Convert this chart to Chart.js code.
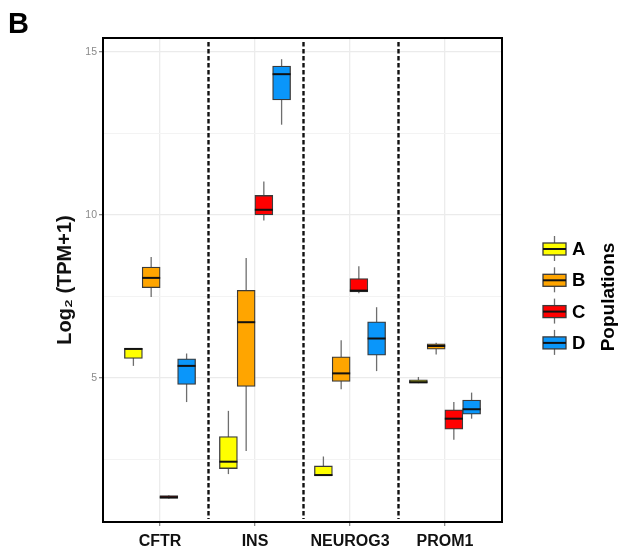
<!DOCTYPE html>
<html>
<head>
<meta charset="utf-8">
<script src="https://cdn.jsdelivr.net/npm/chart.js@4.4.0/dist/chart.umd.min.js"></script>
<style>
  body { margin: 0; background: #fff; }
  #wrap { width: 618px; height: 552px; }
</style>
</head>
<body>
<div id="wrap"><canvas id="boxChart" width="618" height="552"></canvas></div>
<script>
// genes on the x axis, populations = dodged boxes
const genes = ['CFTR', 'INS', 'NEUROG3', 'PROM1'];
const populations = ['A', 'B', 'C', 'D'];
const popColors = ['#FFFF00', '#FFA500', '#FF0000', '#0A96FA'];

// one row per gene: [lower whisker, Q1, median, Q3, upper whisker]
const popA = [[5.36, 5.59, 5.88, 5.90, 5.90], [2.04, 2.21, 2.42, 3.19, 3.98], [1.99, 1.99, 2.01, 2.29, 2.58], [4.83, 4.83, 4.86, 4.93, 5.02]];
const popB = [[7.47, 7.76, 8.06, 8.39, 8.70], [2.75, 4.73, 6.70, 7.68, 8.67], [4.64, 4.88, 5.13, 5.64, 6.15], [5.71, 5.87, 5.97, 6.04, 6.07]];
const popC = [[1.28, 1.29, 1.33, 1.38, 1.39], [9.82, 9.99, 10.15, 10.59, 11.02], [7.59, 7.63, 7.67, 8.04, 8.42], [3.09, 3.42, 3.74, 4.01, 4.25]];
const popD = [[4.25, 4.79, 5.36, 5.58, 5.74], [12.76, 13.52, 14.31, 14.56, 14.77], [5.20, 5.69, 6.20, 6.71, 7.16], [3.74, 3.88, 4.03, 4.31, 4.54]];
const popStats = [popA, popB, popC, popD];

const yTicks = [5, 10, 15];
const separators = [1.5, 2.5, 3.5];

// dodge offsets for the 4 populations inside a gene slot
const dodge = [-0.28, -0.093, 0.093, 0.28];

const datasets = populations.map(function(p, k) {
    return {
        label: p,
        stats: popStats[k],
        data: popStats[k].map(function(s, i) {
            return { x: i + 1 + dodge[k], y: [s[1], s[3]] };
        }),
        backgroundColor: popColors[k],
        borderColor: '#3a3a3a',
        borderWidth: 1.3,
        borderSkipped: false,
        barThickness: 18,
        grouped: false
    };
});

const boxParts = {
    id: 'boxParts',
    beforeDatasetsDraw(chart) {
        const ctx = chart.ctx;
        const area = chart.chartArea;
        const xs = chart.scales.x;
        const ys = chart.scales.y;

        // dashed separators between genes
        ctx.save();
        ctx.strokeStyle = '#111';
        ctx.lineWidth = 2.4;
        ctx.setLineDash([4.5, 2.5]);
        separators.forEach(function(v) {
            const px = Math.round(xs.getPixelForValue(v)) + 0.5;
            ctx.beginPath();
            ctx.moveTo(px, area.top + 4);
            ctx.lineTo(px, area.bottom - 3);
            ctx.stroke();
        });
        ctx.restore();

        // whiskers
        ctx.save();
        ctx.strokeStyle = '#6e6e6e';
        ctx.lineWidth = 1.3;
        chart.data.datasets.forEach(function(ds, k) {
            const meta = chart.getDatasetMeta(k);
            meta.data.forEach(function(el, i) {
                const s = ds.stats[i];
                ctx.beginPath();
                ctx.moveTo(el.x, ys.getPixelForValue(s[0]));
                ctx.lineTo(el.x, ys.getPixelForValue(s[4]));
                ctx.stroke();
            });
        });
        ctx.restore();
    },
    afterDatasetsDraw(chart) {
        const ctx = chart.ctx;
        const ys = chart.scales.y;
        ctx.save();
        ctx.strokeStyle = '#111';
        ctx.lineWidth = 2;
        chart.data.datasets.forEach(function(ds, k) {
            const meta = chart.getDatasetMeta(k);
            meta.data.forEach(function(el, i) {
                const py = ys.getPixelForValue(ds.stats[i][2]);
                ctx.beginPath();
                ctx.moveTo(el.x - el.width / 2, py);
                ctx.lineTo(el.x + el.width / 2, py);
                ctx.stroke();
            });
        });
        ctx.restore();
    },
    afterDraw(chart) {
        const ctx = chart.ctx;
        const area = chart.chartArea;
        ctx.save();

        // panel border
        ctx.strokeStyle = '#000';
        ctx.lineWidth = 2;
        ctx.strokeRect(area.left, area.top, area.right - area.left, area.bottom - area.top);

        // panel letter
        ctx.fillStyle = '#000';
        ctx.font = 'bold 29px "Liberation Sans", Arial, sans-serif';
        ctx.textBaseline = 'alphabetic';
        ctx.fillText('B', 8, 33);

        // legend
        const lx = area.right + 41;
        const bw = 23;
        chart.data.datasets.forEach(function(ds, k) {
            const cy = 249 + k * 31.3;
            ctx.strokeStyle = '#6e6e6e';
            ctx.lineWidth = 1.3;
            ctx.beginPath();
            ctx.moveTo(lx + bw / 2, cy - 13);
            ctx.lineTo(lx + bw / 2, cy + 12);
            ctx.stroke();
            ctx.fillStyle = ds.backgroundColor;
            ctx.fillRect(lx, cy - 6, bw, 12);
            ctx.strokeStyle = '#3a3a3a';
            ctx.lineWidth = 1.3;
            ctx.strokeRect(lx, cy - 6, bw, 12);
            ctx.strokeStyle = '#111';
            ctx.lineWidth = 2;
            ctx.beginPath();
            ctx.moveTo(lx, cy);
            ctx.lineTo(lx + bw, cy);
            ctx.stroke();
            ctx.fillStyle = '#000';
            ctx.font = 'bold 18.5px "Liberation Sans", Arial, sans-serif';
            ctx.textBaseline = 'middle';
            ctx.textAlign = 'left';
            ctx.fillText(ds.label, lx + bw + 6, cy + 1);
        });

        // legend title, rotated
        ctx.translate(609, 297);
        ctx.rotate(-Math.PI / 2);
        ctx.font = 'bold 19px "Liberation Sans", Arial, sans-serif';
        ctx.textAlign = 'center';
        ctx.textBaseline = 'middle';
        ctx.fillStyle = '#000';
        ctx.fillText('Populations', 0, 0);
        ctx.restore();
    }
};

const ctx = document.getElementById('boxChart').getContext('2d');
const boxChart = new Chart(ctx, {
    type: 'bar',
    data: { datasets: datasets },
    options: {
        responsive: false,
        animation: false,
        layout: { padding: { top: 38, right: 116, left: 0, bottom: 0 } },
        plugins: {
            legend: { display: false },
            tooltip: { enabled: false }
        },
        scales: {
            x: {
                type: 'linear',
                min: 0.4,
                max: 4.6,
                offset: false,
                afterFit: function(scale) { scale.height = 30; },
                border: { display: false },
                grid: {
                    offset: false,
                    color: '#ececec',
                    lineWidth: 1.3,
                    tickColor: '#8a8a8a',
                    tickLength: 4
                },
                ticks: {
                    stepSize: 1,
                    includeBounds: false,
                    autoSkip: false,
                    maxRotation: 0,
                    padding: 6,
                    color: '#111',
                    font: { family: '"Liberation Sans", Arial, sans-serif', size: 16, weight: 'bold' },
                    callback: function(v) { return genes[v - 1] || ''; }
                }
            },
            y: {
                min: 0.57,
                max: 15.42,
                afterFit: function(scale) { scale.width = 103; },
                border: { display: false },
                grid: {
                    color: function(c) { return c.tick && yTicks.indexOf(c.tick.value) >= 0 ? '#ebebeb' : '#f3f3f3'; },
                    lineWidth: function(c) { return c.tick && yTicks.indexOf(c.tick.value) >= 0 ? 1.3 : 1; },
                    tickColor: function(c) { return c.tick && yTicks.indexOf(c.tick.value) >= 0 ? '#8a8a8a' : 'rgba(0,0,0,0)'; },
                    tickLength: 4
                },
                ticks: {
                    stepSize: 2.5,
                    includeBounds: false,
                    padding: 2,
                    color: '#8a8a8a',
                    font: { family: '"Liberation Sans", Arial, sans-serif', size: 10.5 },
                    callback: function(v) { return yTicks.indexOf(v) >= 0 ? String(v) : ''; }
                },
                title: {
                    display: true,
                    text: 'Log₂ (TPM+1)',
                    color: '#111',
                    padding: { top: 53, bottom: 0 },
                    font: { family: '"Liberation Sans", Arial, sans-serif', size: 20, weight: 'bold' }
                }
            }
        }
    },
    plugins: [boxParts]
});
</script>
</body>
</html>
